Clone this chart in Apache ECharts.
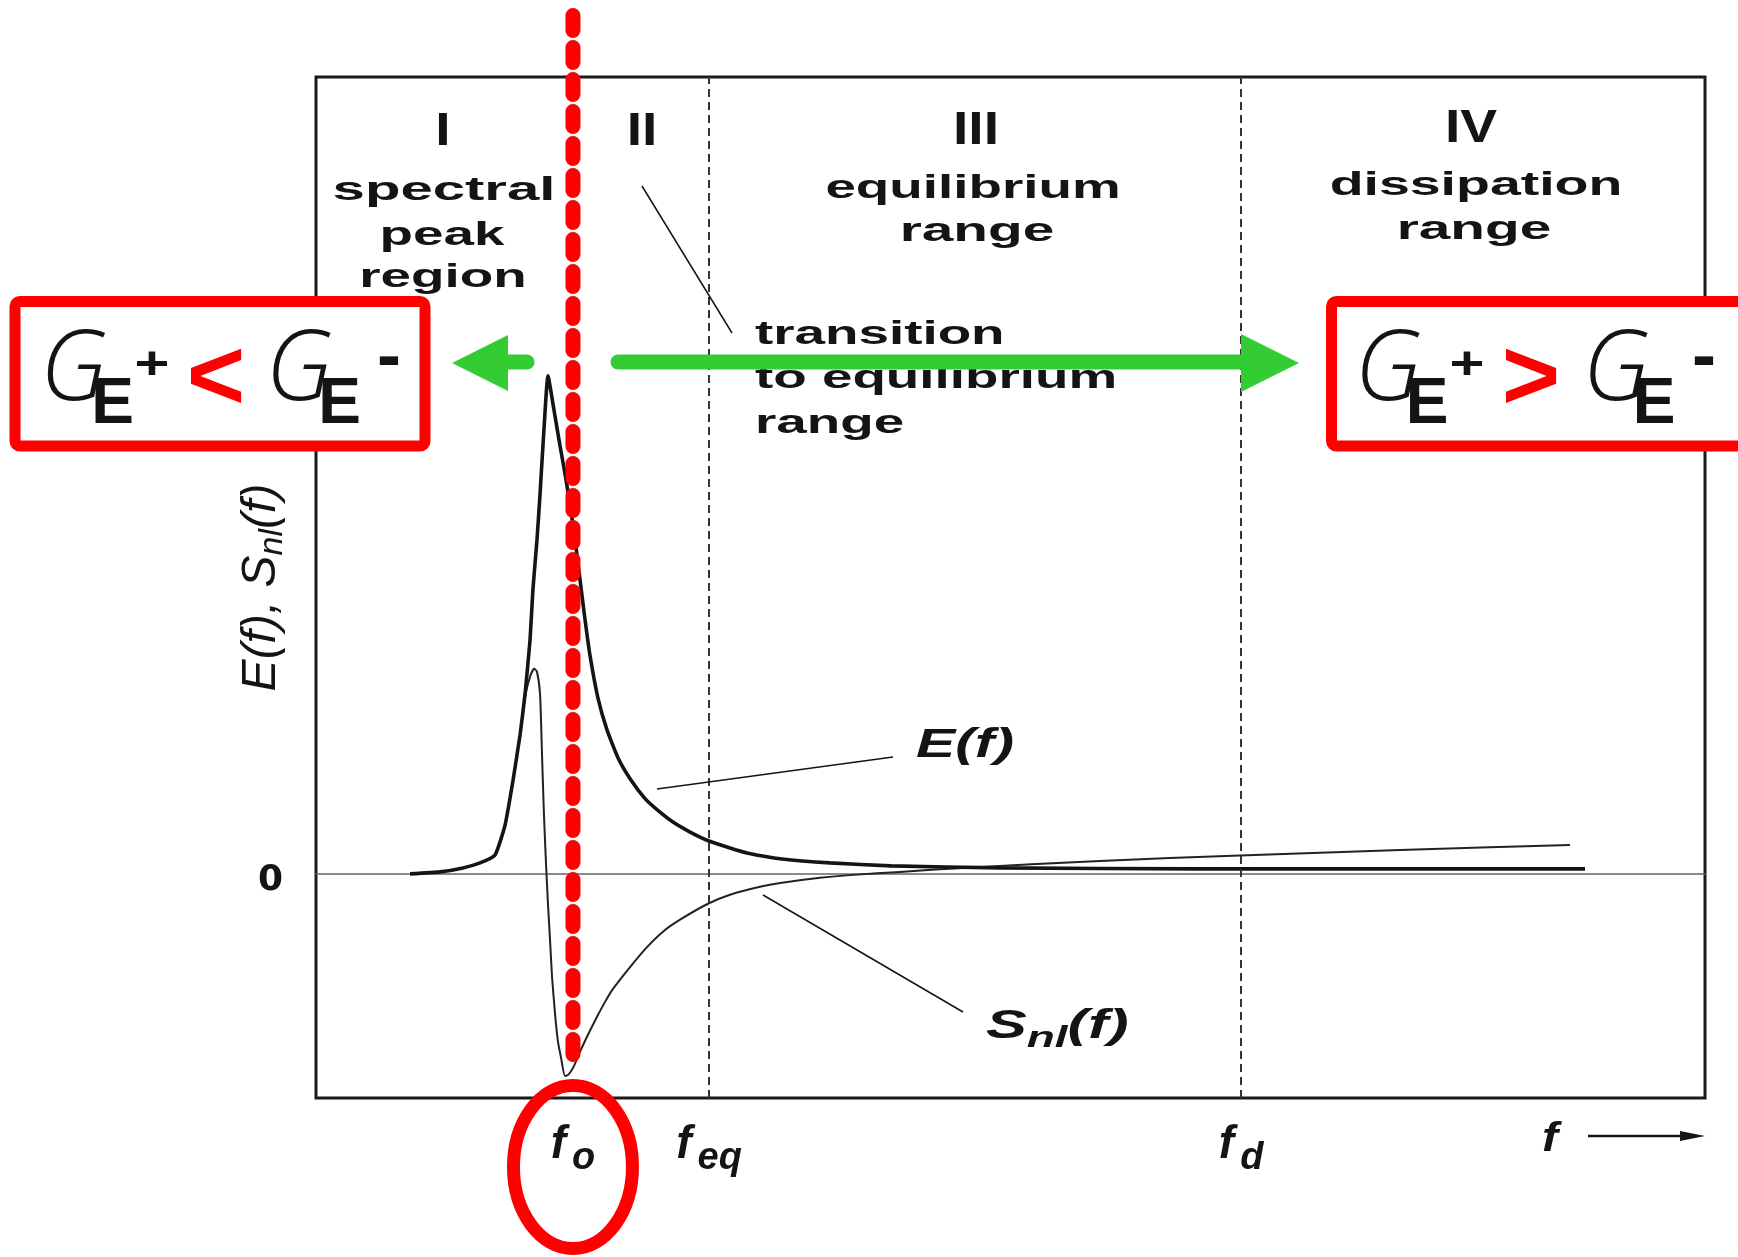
<!DOCTYPE html>
<html>
<head>
<meta charset="utf-8">
<script src="https://cdn.jsdelivr.net/npm/echarts@6/dist/echarts.min.js"></script>
<style>
  html, body { margin: 0; padding: 0; background: #ffffff; }
  #chart { width: 1738px; height: 1257px; }
</style>
</head>
<body>
<div id="chart"></div>
<script>
// Wind-wave spectrum E(f) and nonlinear transfer S_nl(f), arbitrary units
const eFreq = [6.77, 8.93, 10.58, 11.81, 12.89, 13.61, 14.18, 14.69, 15.05, 15.41,
               15.62, 15.91, 16.13, 16.41, 16.70, 17.13, 17.57, 17.93, 18.29, 18.65,
               19.01, 19.37, 19.73, 20.30, 20.95, 21.74, 22.61, 23.69, 24.55, 25.70,
               26.93, 28.29, 29.81, 31.03, 33.55, 37.00, 41.40, 49.24, 63.64, 91.36];
const eValue = [0, 0.04, 0.12, 0.22, 0.38, 0.98, 1.87, 2.79, 3.61, 4.70,
                5.72, 6.71, 7.63, 8.92, 10.0, 9.32, 8.59, 8.03, 7.41, 6.71,
                5.90, 5.10, 4.38, 3.53, 2.89, 2.33, 1.91, 1.51, 1.29, 1.04,
                0.84, 0.66, 0.52, 0.42, 0.30, 0.22, 0.16, 0.12, 0.10, 0.10];

const sFreq = [6.77, 8.93, 10.58, 11.81, 12.89, 13.61, 14.18, 14.69, 15.05, 15.41,
               15.70, 15.91, 16.13, 16.27, 16.41, 16.56, 16.70, 16.85, 16.99, 17.21,
               17.42, 17.64, 17.93, 18.21, 18.57, 19.01, 19.58, 20.23, 20.81, 21.38,
               22.61, 23.83, 24.98, 26.21, 28.22, 29.81, 31.97, 33.55, 36.29, 38.73,
               42.04, 46.58, 56.44, 66.52, 78.04, 90.28];
const sValue = [0, 0.04, 0.12, 0.22, 0.38, 0.98, 1.87, 2.79, 3.55, 3.96,
                4.12, 4.06, 3.61, 2.41, 1.20, 0.20, -0.60, -1.33, -2.05, -2.81,
                -3.37, -3.69, -4.06, -4.02, -3.86, -3.57, -3.23, -2.87, -2.57, -2.31,
                -1.87, -1.47, -1.16, -0.92, -0.60, -0.42, -0.26, -0.18, -0.08, -0.02,
                0.04, 0.12, 0.26, 0.37, 0.48, 0.58];

// characteristic frequencies f_o, f_eq, f_d
const tickValues = [18.5, 28.3, 66.6];
const tickSubs = ['o', 'eq', 'd'];
const peakFreq = tickValues[0];
const rangeBounds = [tickValues[1], tickValues[2]];

const numerals = ['I', 'II', 'III', 'IV'];
const peakWords = ['spectral', 'peak', 'region'];
const eqWords = ['equilibrium', 'range'];
const dissWords = ['dissipation', 'range'];
const transWords = ['transition', 'to equilibrium', 'range'];

const INK = '#141414';
const RED = '#ff0000';
const GREEN = '#33cc33';
const SANS = '"Liberation Sans", Arial, sans-serif';

const pair = (xs, ys) => xs.map((x, i) => [x, ys[i]]);

const chart = echarts.init(document.getElementById('chart'), null, { renderer: 'canvas' });

const option = {
  animation: false,
  backgroundColor: '#ffffff',
  grid: {
    left: 316, top: 77, width: 1389, height: 1021,
    show: true, borderColor: '#1a1a1a', borderWidth: 3, backgroundColor: 'transparent'
  },
  xAxis: [
    {
      type: 'value', min: 0, max: 100,
      axisLine: { show: true, onZero: true, lineStyle: { color: '#666', width: 1.5 } },
      axisTick: { show: false }, axisLabel: { show: false }, splitLine: { show: false }
    },
    {
      type: 'value', min: 0, max: 100, position: 'bottom',
      axisLine: { show: false, onZero: false }, axisTick: { show: false }, splitLine: { show: false },
      axisLabel: {
        show: true,
        customValues: tickValues,
        margin: 14,
        formatter: function (v) {
          let k = 0;
          tickValues.forEach((t, i) => { if (Math.abs(t - v) < Math.abs(tickValues[k] - v)) k = i; });
          return '{f|f}{s|' + tickSubs[k] + '}';
        },
        rich: {
          f: { fontSize: 46, fontStyle: 'italic', fontWeight: 'bold', fontFamily: SANS, color: INK },
          s: { fontSize: 38, fontStyle: 'italic', fontWeight: 'bold', fontFamily: SANS, color: INK, padding: [28, 0, 0, 6] }
        }
      }
    }
  ],
  yAxis: {
    type: 'value', min: -4.5, max: 16,
    axisLine: { show: false }, axisTick: { show: false }, splitLine: { show: false },
    axisLabel: {
      show: true, customValues: [0], margin: 33,
      formatter: () => '{z|0}',
      rich: {
        z: { fontSize: 36, fontWeight: 'bold', fontFamily: '"DejaVu Sans", sans-serif', color: INK, padding: [14, 0, 0, 0] }
      }
    },
    name: '{i|E(f), S}{s|nl}{i|(f)}',
    nameLocation: 'middle',
    nameRotate: 90,
    nameGap: 26,
    nameMoveOverlap: false,
    nameTextStyle: {
      rich: {
        i: { fontSize: 48, fontStyle: 'italic', fontFamily: SANS, color: INK },
        s: { fontSize: 34, fontStyle: 'italic', fontFamily: SANS, color: INK, padding: [22, 0, 0, 0] }
      }
    }
  },
  series: [
    {
      name: 'E(f)', type: 'line', xAxisIndex: 0, yAxisIndex: 0,
      data: pair(eFreq, eValue),
      showSymbol: false, smooth: 0.15, z: 4,
      lineStyle: { color: INK, width: 3.6 },
      markLine: {
        silent: true, symbol: 'none', label: { show: false },
        lineStyle: { type: [8, 5], color: '#333', width: 2 },
        data: rangeBounds.map(v => ({ xAxis: v }))
      }
    },
    {
      name: 'S_nl(f)', type: 'line', xAxisIndex: 0, yAxisIndex: 0,
      data: pair(sFreq, sValue),
      showSymbol: false, smooth: 0.2, z: 3,
      lineStyle: { color: '#222', width: 2 }
    }
  ]
};

chart.setOption(option);

const xPix = v => chart.convertToPixel({ xAxisIndex: 0 }, v);

function txt(text, x, y, font, opts) {
  opts = opts || {};
  const align = opts.align || 'center';
  return {
    type: 'text', x: x, y: y, z: opts.z || 20,
    scaleX: opts.sx || 1,
    style: {
      text: text, font: font, fill: opts.fill || INK,
      align: align, textAlign: align,
      verticalAlign: 'middle', textVerticalAlign: 'middle',
      rich: opts.rich
    }
  };
}
function seg(x1, y1, x2, y2, w, color, extra) {
  return Object.assign({
    type: 'line', z: 18,
    shape: { x1: x1, y1: y1, x2: x2, y2: y2 },
    style: { stroke: color || INK, lineWidth: w || 1.5 }
  }, extra || {});
}

const numFont = 'bold 46px ' + SANS;
const wordFont = 'bold 33px ' + SANS;
const WIDE = 1.66;
const els = [];

// region numerals
[[443, 132], [642, 132], [976, 131], [1471, 129]].forEach((p, i) => {
  els.push(txt(numerals[i], p[0], p[1], numFont, { sx: 1.2 }));
});
// region names
[[444, 191, 1.76], [442, 236, WIDE], [443, 278, WIDE]].forEach((p, i) => els.push(txt(peakWords[i], p[0], p[1], wordFont, { sx: p[2] })));
[[973, 189, WIDE], [977, 232, 1.72]].forEach((p, i) => els.push(txt(eqWords[i], p[0], p[1], wordFont, { sx: p[2] })));
[[1476, 186, 1.68], [1474, 230, 1.72]].forEach((p, i) => els.push(txt(dissWords[i], p[0], p[1], wordFont, { sx: p[2] })));
[335, 379, 424].forEach((y, i) => els.push(txt(transWords[i], 755, y, wordFont, { sx: WIDE, align: 'left' })));

// leader lines
els.push(seg(642, 186, 732, 333, 1.5));
els.push(seg(657, 789, 893, 757, 1.5));
els.push(seg(763, 895, 963, 1012, 1.5));

// curve labels
const curveRich = {
  m: { fontSize: 40, fontStyle: 'italic', fontWeight: 'bold', fontFamily: SANS, color: INK },
  s: { fontSize: 30, fontStyle: 'italic', fontWeight: 'bold', fontFamily: SANS, color: INK, padding: [24, 0, 0, 0] }
};
els.push(txt('{m|E(f)}', 916, 746, '', { sx: 1.47, align: 'left', rich: curveRich }));
els.push(txt('{m|S}{s|nl}{m|(f)}', 986, 1027, '', { sx: 1.53, align: 'left', rich: curveRich }));

// frequency axis arrow
els.push(txt('f', 1550, 1140, 'italic bold 40px ' + SANS, { sx: 1.2 }));
els.push(seg(1588, 1136, 1685, 1136, 2.5, INK, { z: 18 }));
els.push({ type: 'polygon', z: 18, shape: { points: [[1705, 1136], [1680, 1131], [1680, 1141]] }, style: { fill: INK } });

// green arrows
els.push(seg(500, 362, 527, 362, 15, GREEN, { z: 30, style: { stroke: GREEN, lineWidth: 15, lineCap: 'round' } }));
els.push({ type: 'polygon', z: 30, shape: { points: [[452, 363], [508, 335], [508, 391]] }, style: { fill: GREEN } });
els.push(seg(618, 362, 1245, 362, 15, GREEN, { z: 30, style: { stroke: GREEN, lineWidth: 15, lineCap: 'round' } }));
els.push({ type: 'polygon', z: 30, shape: { points: [[1299, 363], [1241, 334], [1241, 392]] }, style: { fill: GREEN } });

// red boxes with growth-rate comparisons
els.push({ type: 'rect', z: 40, shape: { x: 15, y: 301.5, width: 410, height: 144.5, r: 5 }, style: { fill: '#fff', stroke: RED, lineWidth: 11 } });
els.push({ type: 'rect', z: 40, shape: { x: 1331.5, y: 301.5, width: 460, height: 144.5, r: 5 }, style: { fill: '#fff', stroke: RED, lineWidth: 11 } });

const gFont = 'italic 300 98px "Open Sans", "Liberation Sans", sans-serif';
const eFont = 'bold 64px ' + SANS;
const plusFont = 'bold 46px ' + SANS;
const relFont = 'bold 100px ' + SANS;
const minusFont = 'bold 72px ' + SANS;
function relation(xs, rel) {
  els.push(txt('G', xs[0], 372, gFont, { z: 45 }));
  els.push(txt('E', xs[1], 405, eFont, { z: 46 }));
  els.push(txt('+', xs[2], 366, plusFont, { z: 46, sx: 1.3 }));
  els.push(txt(rel, xs[3], 381, relFont, { z: 46, fill: RED }));
  els.push(txt('G', xs[4], 372, gFont, { z: 45 }));
  els.push(txt('E', xs[5], 405, eFont, { z: 46 }));
  els.push(txt('-', xs[6], 359, minusFont, { z: 46 }));
}
relation([73.5, 112.5, 152, 216, 299, 339.5, 389], '<');
relation([1388, 1427, 1467, 1531, 1616, 1654, 1704], '>');

// peak frequency marker
const fx = xPix(peakFreq);
els.push({
  type: 'line', z: 50,
  shape: { x1: fx, y1: 15.5, x2: fx, y2: 1055.5 },
  style: { stroke: RED, lineWidth: 15, lineDash: [15, 17], lineCap: 'round' }
});
els.push({
  type: 'ellipse', z: 50,
  shape: { cx: fx, cy: 1167, rx: 59.5, ry: 81.5 },
  style: { fill: 'none', stroke: RED, lineWidth: 13 }
});

chart.setOption({ graphic: { elements: els } });
</script>
</body>
</html>
